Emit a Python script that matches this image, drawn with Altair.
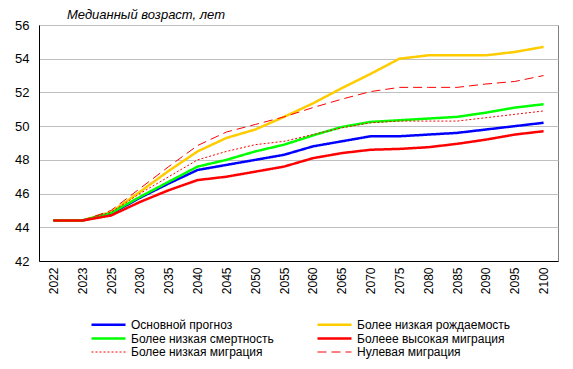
import altair as alt
import pandas as pd

years = ["2022", "2023", "2025", "2030", "2035", "2040", "2045", "2050", "2055",
         "2060", "2065", "2070", "2075", "2080", "2085", "2090", "2095", "2100"]

series_names = ["Основной прогноз", "Более низкая рождаемость",
                "Более низкая смертность", "Бoлеее высокая миграция",
                "Более низкая миграция", "Нулевая миграция"]

base = [44.4, 44.4, 44.8, 45.75, 46.6, 47.4, 47.7, 48.0, 48.3, 48.8, 49.1, 49.4, 49.4, 49.5, 49.6, 49.8, 50.0, 50.2]
low_fert = [44.4, 44.4, 44.9, 46.1, 47.35, 48.5, 49.3, 49.8, 50.55, 51.35, 52.25, 53.1, 54.0, 54.2, 54.2, 54.2, 54.4, 54.7]
low_mort = [44.4, 44.4, 44.85, 45.8, 46.7, 47.6, 48.0, 48.5, 48.9, 49.45, 49.95, 50.25, 50.35, 50.45, 50.55, 50.8, 51.1, 51.3]
high_mig = [44.4, 44.4, 44.7, 45.5, 46.2, 46.8, 47.0, 47.3, 47.6, 48.1, 48.4, 48.6, 48.65, 48.75, 48.95, 49.2, 49.5, 49.7]
low_mig = [44.4, 44.4, 44.9, 46.0, 47.0, 48.0, 48.5, 48.9, 49.1, 49.5, 49.9, 50.2, 50.3, 50.3, 50.3, 50.5, 50.7, 50.9]
zero_mig = [44.4, 44.4, 45.0, 46.3, 47.6, 48.85, 49.65, 50.1, 50.55, 51.1, 51.6, 52.05, 52.3, 52.3, 52.3, 52.5, 52.65, 53.0]

series_values = [base, low_fert, low_mort, high_mig, low_mig, zero_mig]
series_colors = ["#0000FF", "#FFCC00", "#00FF00", "#FF0000", "#FF0000", "#FF0000"]
series_dash = [[1, 0], [1, 0], [1, 0], [1, 0], [2, 2], [9, 5]]
series_width = [2.5, 2.5, 2.5, 2.5, 1.0, 1.0]

# legend is filled column by column: order entries so rows read as in the reference
legend_order = [0, 2, 4, 1, 3, 5]
dom = [series_names[i] for i in legend_order]
col_rng = [series_colors[i] for i in legend_order]
dash_rng = [series_dash[i] for i in legend_order]
width_rng = [series_width[i] for i in legend_order]

rows = []
for name, vals in zip(series_names, series_values):
    for y, v in zip(years, vals):
        rows.append({"year": y, "value": v, "series": name})
df = pd.DataFrame(rows)

legend = alt.Legend(
    title=None, orient="none", legendX=63, legendY=293, columns=2,
    columnPadding=38, rowPadding=1, symbolType="M-3.4,0H3.4", symbolSize=100,
    labelOffset=16, labelFontSize=12, labelFont="Liberation Sans",
    labelColor="#000000", labelLimit=300,
)

chart = alt.Chart(df).mark_line().encode(
    x=alt.X("year:N", sort=years, title=None,
            scale=alt.Scale(type="point", padding=0.5),
            axis=alt.Axis(labelAngle=270, labelFontSize=12, labelFont="Liberation Sans",
                          labelColor="#000000", ticks=False, domainColor="#000000",
                          labelPadding=6, grid=False)),
    y=alt.Y("value:Q", title=None,
            scale=alt.Scale(domain=[42, 56], nice=False, zero=False),
            axis=alt.Axis(values=[42, 44, 46, 48, 50, 52, 54, 56], labelFontSize=13,
                          labelFont="Liberation Sans", labelColor="#000000", ticks=False,
                          domainColor="#000000", labelPadding=10, gridColor="#BFBFBF")),
    color=alt.Color("series:N", sort=dom,
                    scale=alt.Scale(domain=dom, range=col_rng), legend=legend),
    strokeDash=alt.StrokeDash("series:N", sort=dom,
                              scale=alt.Scale(domain=dom, range=dash_rng), legend=legend),
    strokeWidth=alt.StrokeWidth("series:N", sort=dom,
                                scale=alt.Scale(type="ordinal", domain=dom, range=width_rng),
                                legend=legend),
).properties(
    width=519, height=236,
    autosize=alt.AutoSizeParams(type="none"),
    padding={"left": 31, "top": 17, "right": 7, "bottom": 100},
    title=alt.Title("Медианный возраст, лет", anchor="start", frame="group", dx=28,
                    dy=19, offset=6, fontSize=13, fontStyle="italic", fontWeight="normal",
                    font="Liberation Sans", color="#000000", baseline="alphabetic"),
).configure_view(stroke="#808080", strokeWidth=1)

chart.save("out.html", embed_options={"renderer": "svg", "actions": False})
